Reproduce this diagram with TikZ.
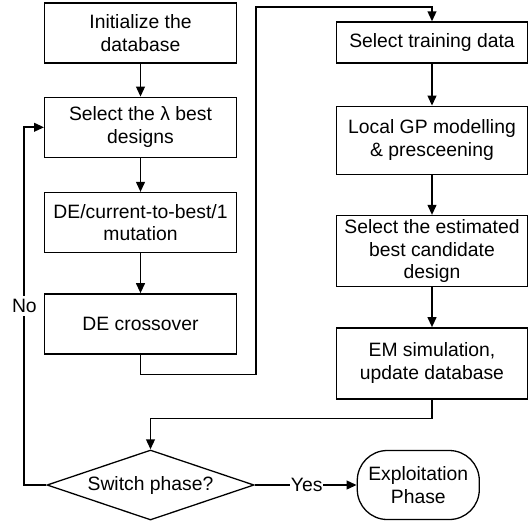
\documentclass[tikz,border=0pt]{standalone}
\usepackage{fontspec}
\setmainfont{Liberation Sans}
\usepackage{tikz}
\usetikzlibrary{positioning,arrows.meta,shapes.geometric}

\begin{document}
\begin{tikzpicture}[
    font=\fontsize{16.5}{19.5}\selectfont,
    box/.style={draw,line width=1.1pt,minimum width=5.75cm,minimum height=1.8cm,
                inner sep=2pt,align=center},
    decide/.style={draw,diamond,aspect=3,line width=1.1pt,inner sep=0pt,
                   minimum width=6.21cm,minimum height=2.1cm},
    term/.style={draw,line width=1.1pt,rounded corners=0.9cm,
                 minimum width=3.66cm,minimum height=2.07cm,align=center},
    flow/.style={-{Triangle[length=3mm,width=2.6mm]},line width=1.6pt},
    lbl/.style={fill=white,inner sep=1pt},
]
\useasboundingbox (0,0) rectangle (15.87,-15.69);

% --- global search column ---
\node[box] (init) at (4.215,-0.99) {Initialize the\\database};
\node[box,below=0.99cm of init]  (sel)  {Select the λ best\\designs};
\node[box,below=1.02cm of sel]   (mut)  {DE/current-to-best/1\\mutation};
\node[box,below=1.2cm of mut]    (cx)   {DE crossover};

% --- surrogate column ---
\node[box,minimum height=1.23cm] (tr) at (12.96,-1.275) {Select training data};
\node[box,minimum height=2.04cm,below=1.26cm of tr] (gp) {Local GP modelling\\\& presceening};
\node[box,minimum height=2.13cm,below=1.2cm of gp]  (est) {Select the estimated\\best candidate\\design};
\node[box,minimum height=2.13cm,below=1.2cm of est] (em)  {EM simulation,\\update database};

% decision and exit
\node[decide] (sw) at (4.515,-14.55) {Switch phase?};
\node[term,right=3.06cm of sw] (expl) {Exploitation\\Phase};

\coordinate (up) at (7.68,-0.21);

% straight dataflow
\draw[flow] (init) -- (sel);
\draw[flow] (sel) -- (mut);
\draw[flow] (mut) -- (cx);
\draw[flow] (tr) -- (gp);
\draw[flow] (gp) -- (est);
\draw[flow] (est) -- (em);

% crossover over to the surrogate column
\draw[flow] (cx.south) -- ++(0,-0.6) -| (up) -| (tr.north);
% back down to the decision
\draw[flow] (em.south) -- ++(0,-0.57) -| (sw.north);

% loop and exit
\draw[flow] (sw.west) -- ++(-0.66,0) |- node[lbl,pos=0.25,inner sep=3pt] {No} (sel.west);
\draw[flow] (sw.east) -- node[lbl,pos=0.51,inner sep=0.5pt] {Yes} (expl.west);
\end{tikzpicture}
\end{document}
